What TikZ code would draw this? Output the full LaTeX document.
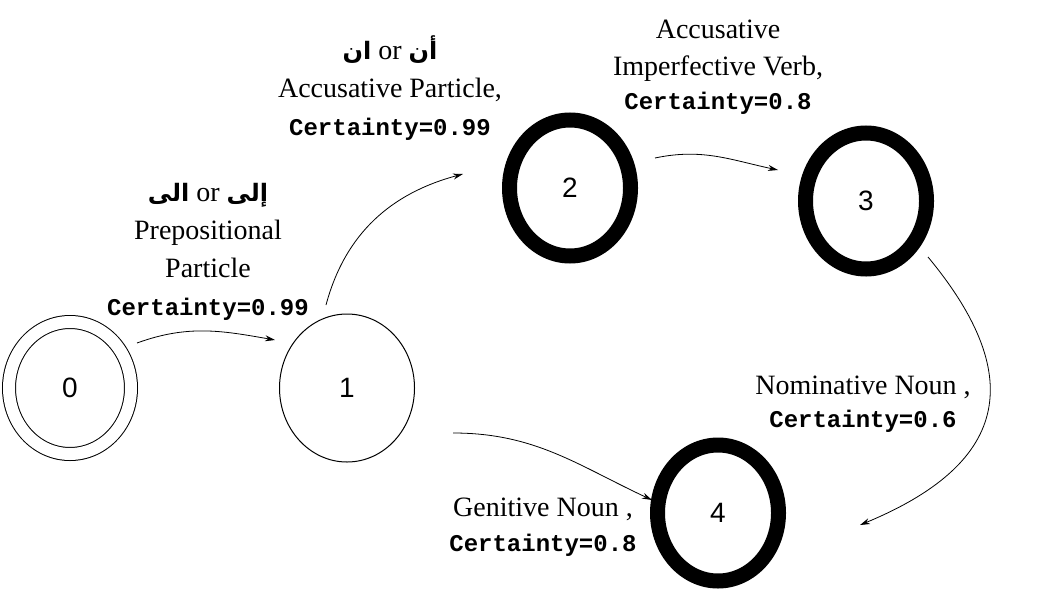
\documentclass[tikz,border=0pt]{standalone}
\usepackage{fontspec}
\setmainfont{Liberation Serif}
\setmonofont{Liberation Mono}
\newfontfamily\digitfont{Liberation Sans}
\newfontfamily\arabicfont[Script=Arabic]{DejaVu Sans}
\TeXXeTstate=1
\usetikzlibrary{shapes.geometric,arrows.meta,calc}
\newcommand{\cert}[1]{{\ttfamily\bfseries\fontsize{24}{38}\selectfont Certainty=#1}}
\newcommand{\arword}[1]{{\arabicfont\bfseries\fontsize{24}{38}\selectfont\beginR #1\endR}}
\tikzset{
  state/.style={ellipse, draw, inner sep=0pt, line width=1pt,
    minimum width=135pt, minimum height=148pt,
    font=\digitfont\fontsize{28}{30}\selectfont},
  start state/.style={state, double, double distance=12pt,
    minimum width=122pt, minimum height=132pt},
  final state/.style={state, line width=15pt,
    minimum width=121pt, minimum height=136pt},
  edge label/.style={align=center, font=\fontsize{28}{38}\selectfont},
  trans/.style={-{Stealth[length=10pt,width=6pt]}, line width=0.8pt},
}
\begin{document}
\begin{tikzpicture}[x=1pt,y=1pt]
    \useasboundingbox (0,0) rectangle (1040,-594);
    % states
    \node[start state] (s0) at (70,-388) {0};
    \node[state] (s1) at (347,-388) {1};
    \node[final state] (s2) at (570,-188) {2};
    \node[final state] (s3) at (866,-201) {3};
    \node[final state] (s4) at (718,-513) {4};
    % transitions
    \draw[trans] ($(s0.center)+(67,45)$) to[out=20,in=170] ($(s1.center)+(-72,48)$);
    \draw[trans] ($(s1.center)+(-21,83)$) to[out=75,in=195] ($(s2.center)+(-107,14)$);
    \draw[trans] ($(s2.center)+(85,30)$) to[out=12,in=168] ($(s3.center)+(-88,31)$);
    \draw[trans] ($(s3.center)+(62,-56)$) .. controls (1030,-380) and (1005,-465) .. ($(s4.center)+(142,-12)$);
    \draw[trans] ($(s1.center)+(106,-45)$) to[out=0,in=155] ($(s4.center)+(-66,13)$);
    % labels
    \node[edge label] (l01) at (208,-252) {\arword{الى} or \arword{إلى}\\Prepositional\\Particle\\\cert{0.99}};
    \node[edge label] (l12) at (390,-88) {\arword{ان} or \arword{أن}\\Accusative Particle,\\\cert{0.99}};
    \node[edge label] (l23) at (718,-67.5) {Accusative\\[-1pt]Imperfective Verb,\\[-4pt]\cert{0.8}};
    \node[edge label] (l34) at (863,-404.5) {Nominative Noun ,\\[-5pt]\cert{0.6}};
    \node[edge label] (l14) at (543,-527.5) {Genitive Noun ,\\[-3pt]\cert{0.8}};
\end{tikzpicture}
\end{document}
